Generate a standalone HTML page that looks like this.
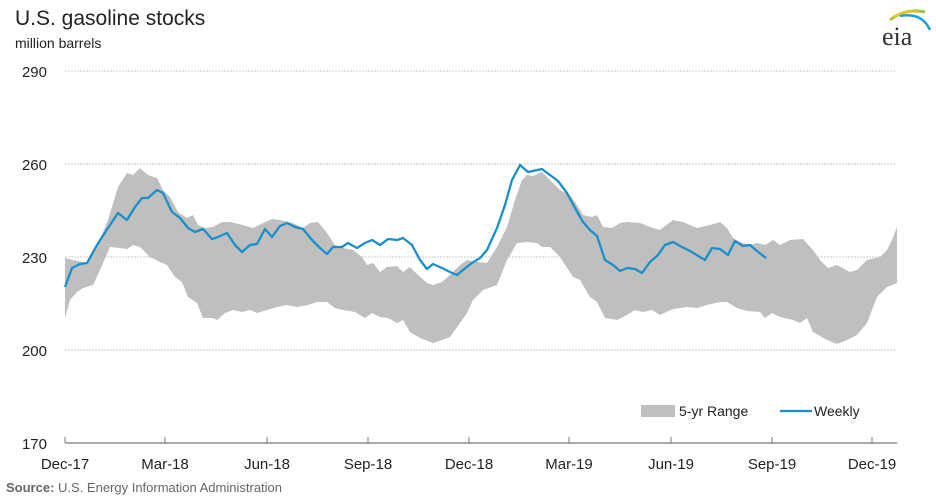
<!DOCTYPE html>
<html><head><meta charset="utf-8"><style>
body{margin:0;background:#fff;}
svg text{font-family:"Liberation Sans",Arial,sans-serif;}
</style></head><body>
<svg width="936" height="498" viewBox="0 0 936 498" xmlns="http://www.w3.org/2000/svg">
<rect width="936" height="498" fill="#fff"/>
<text x="15" y="25" font-size="21" fill="#222">U.S. gasoline stocks</text>
<text x="15" y="48" font-size="14" fill="#222">million barrels</text>
<!-- eia logo -->
<path d="M890 20 Q905 8 925 12" stroke="#9bc83c" stroke-width="3" fill="none"/>
<path d="M893 17 Q905 10 918 12" stroke="#f0c419" stroke-width="2" fill="none"/>
<path d="M900 16 Q922 12 930 30" stroke="#1ba0d8" stroke-width="2.5" fill="none"/>
<text x="882" y="45" font-size="26" font-family="Liberation Serif,serif" fill="#333" style="font-family:'Liberation Serif',serif">eia</text>
<!-- grid -->
<g stroke="#c8c8c8" stroke-width="1" stroke-dasharray="2,1">
<line x1="65" y1="71" x2="895" y2="71"/>
<line x1="65" y1="164" x2="895" y2="164"/>
<line x1="65" y1="257" x2="895" y2="257"/>
<line x1="65" y1="350" x2="895" y2="350"/>
</g>
<g font-size="15" fill="#222" text-anchor="end">
<text x="47" y="77">290</text><text x="47" y="170">260</text><text x="47" y="263">230</text><text x="47" y="356">200</text><text x="47" y="449">170</text>
</g>
<!-- band -->
<polygon fill="#bfbfbf" points="65,258 73,260 87,263 97,247 108,220 118,187 127,173 133,175 140,168 148,175 157,178 163,190 170,197 178,212 187,218 193,215 198,225 205,228 213,227 222,222 230,222 243,225 253,228 263,223 272,219 280,220 293,223 303,228 310,223 318,222 327,233 335,245 343,248 353,250 362,257 367,265 373,263 380,272 387,267 397,266 403,272 410,267 418,275 427,283 433,285 442,282 450,275 460,265 467,260 477,262 487,263 497,247 507,227 515,200 522,180 527,175 533,176 542,172 550,180 560,190 570,195 577,205 583,215 592,217 597,215 603,227 612,228 620,223 627,222 640,223 650,227 660,230 673,220 683,222 697,228 710,225 720,222 727,228 733,238 740,242 750,245 757,243 765,245 773,240 780,245 790,240 803,239 813,250 820,260 828,268 837,265 850,272 857,270 867,260 880,257 887,250 892,240 897,227 897,283 887,287 877,297 867,323 857,335 847,340 837,344 827,340 813,332 807,318 800,323 793,320 780,317 772,313 765,318 760,312 747,311 737,308 727,302 720,302 707,305 697,308 687,307 673,309 660,315 652,310 643,312 635,310 627,315 617,320 605,318 597,302 590,297 580,280 573,277 560,257 550,247 542,247 537,243 527,242 517,243 507,260 497,285 483,290 473,300 467,313 460,323 450,337 442,340 433,343 420,338 410,332 403,320 397,323 388,318 380,317 372,313 365,318 355,312 343,310 335,308 327,302 317,302 308,305 297,307 287,305 277,307 267,310 257,313 250,310 242,312 233,310 225,313 217,320 213,318 203,318 197,303 188,297 182,282 175,277 167,265 160,262 150,257 140,247 133,245 127,249 120,248 110,247 100,270 93,285 83,288 77,292 70,300 65,318"/>
<!-- weekly -->
<polyline fill="none" stroke="#1a8fc9" stroke-width="2.3" stroke-linejoin="round" points="65,287 72,268 80,264 87,263 97,245 108,228 118,213 127,220 135,207 142,198 148,198 157,190 163,193 172,212 180,218 188,228 195,232 203,229 212,239 218,237 227,233 235,245 242,252 250,245 257,244 265,229 272,237 280,226 287,223 295,227 303,229 312,240 320,248 327,254 333,247 342,247 348,243 357,248 365,243 372,240 380,245 388,239 397,240 403,238 412,245 420,260 427,269 433,264 442,268 450,272 457,275 463,270 472,263 480,258 487,250 497,228 505,205 512,180 520,165 528,172 542,169 550,175 558,181 567,193 575,208 583,222 590,230 597,236 605,260 613,265 620,271 627,268 635,269 642,273 650,262 658,255 665,245 673,242 682,247 690,251 705,260 712,248 720,249 728,255 735,241 743,246 750,245 757,251 766,258"/>
<!-- axis -->
<line x1="65" y1="443" x2="897" y2="443" stroke="#777" stroke-width="1.3"/>
<g stroke="#777" stroke-width="1">
<line x1="65" y1="437" x2="65" y2="443"/><line x1="165" y1="437" x2="165" y2="443"/><line x1="267" y1="437" x2="267" y2="443"/><line x1="368" y1="437" x2="368" y2="443"/><line x1="469" y1="437" x2="469" y2="443"/><line x1="569" y1="437" x2="569" y2="443"/><line x1="671" y1="437" x2="671" y2="443"/><line x1="772" y1="437" x2="772" y2="443"/><line x1="872" y1="437" x2="872" y2="443"/>
</g>
<g font-size="15" fill="#222" text-anchor="middle">
<text x="65" y="469">Dec-17</text><text x="165" y="469">Mar-18</text><text x="267" y="469">Jun-18</text><text x="368" y="469">Sep-18</text><text x="469" y="469">Dec-18</text><text x="569" y="469">Mar-19</text><text x="671" y="469">Jun-19</text><text x="772" y="469">Sep-19</text><text x="872" y="469">Dec-19</text>
</g>
<!-- legend -->
<rect x="641" y="405" width="34" height="12" fill="#bfbfbf"/>
<text x="679" y="416" font-size="14" fill="#222">5-yr Range</text>
<line x1="780" y1="411" x2="812" y2="411" stroke="#1a8fc9" stroke-width="2.3"/>
<text x="814" y="416" font-size="14" fill="#222">Weekly</text>
<text x="6" y="492" font-size="13" fill="#666"><tspan font-weight="bold">Source:</tspan> U.S. Energy Information Administration</text>
</svg>
</body></html>
